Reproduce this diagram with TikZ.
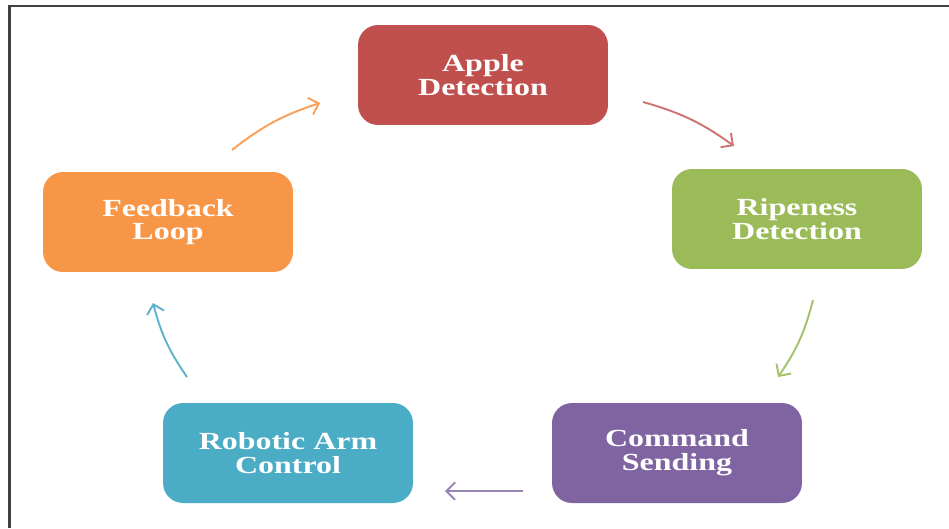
\documentclass[tikz,border=0pt]{standalone}
\usepackage{fontspec}
\setmainfont{Liberation Serif}[FakeStretch=1.3]
\usepackage{tikz}
\usetikzlibrary{arrows.meta}
\usetikzlibrary{positioning}
\definecolor{appred}{HTML}{C0504D}
\definecolor{ripegreen}{HTML}{9BBB59}
\definecolor{cmdpurple}{HTML}{8064A2}
\definecolor{armteal}{HTML}{4BACC6}
\definecolor{looporange}{HTML}{F79646}
\tikzset{
    stage/.style={
           rectangle,
           rounded corners=0.4cm,
           draw=none,
           minimum width=5cm,
           minimum height=2cm,
           inner sep=2pt,
           text=white,
           align=center,
           font=\fontsize{14}{13.5}\selectfont\bfseries,
           },
    cycle/.style={
           -{Straight Barb[length=5pt,width=10pt]},
           line width=1.1pt,
           bend left=10,
           },
}

\begin{document}
\begin{tikzpicture}[x=0.02cm,y=-0.02cm]
    \useasboundingbox (0,0) rectangle (949,528);
    % frame
    \draw[black!75, line width=1.3pt] (9.5,528) -- (9.5,6) -- (949,6);

    \node[stage,fill=appred]     (s_0) at (483,75)  {Apple\\Detection};
    \node[stage,fill=ripegreen]  (s_1) at (797,219) {Ripeness\\Detection};
    \node[stage,fill=cmdpurple]  (s_2) at (677,453) {Command\\Sending};
    \node[stage,fill=armteal]    (s_3) at (288,453) {Robotic Arm\\Control};
    \node[stage,fill=looporange] (s_4) at (168,222) {Feedback\\Loop};

    % arrow ends
    \coordinate (a_0) at (643,102);  \coordinate (b_0) at (734,146);
    \coordinate (a_1) at (813,300);  \coordinate (b_1) at (778,377);
    \coordinate (a_2) at (523,491);  \coordinate (b_2) at (445,491);
    \coordinate (a_3) at (187,377);  \coordinate (b_3) at (153,303);
    \coordinate (a_4) at (232,150);  \coordinate (b_4) at (320,103);

    \path
    (a_0) edge[cycle, draw=appred!80]     (b_0)
    (a_1) edge[cycle, draw=ripegreen!90]  (b_1)
    (a_2) edge[cycle, draw=cmdpurple!80, bend left=0] (b_2)
    (a_3) edge[cycle, draw=armteal!90]    (b_3)
    (a_4) edge[cycle, draw=looporange!90] (b_4);
\end{tikzpicture}
\end{document}
